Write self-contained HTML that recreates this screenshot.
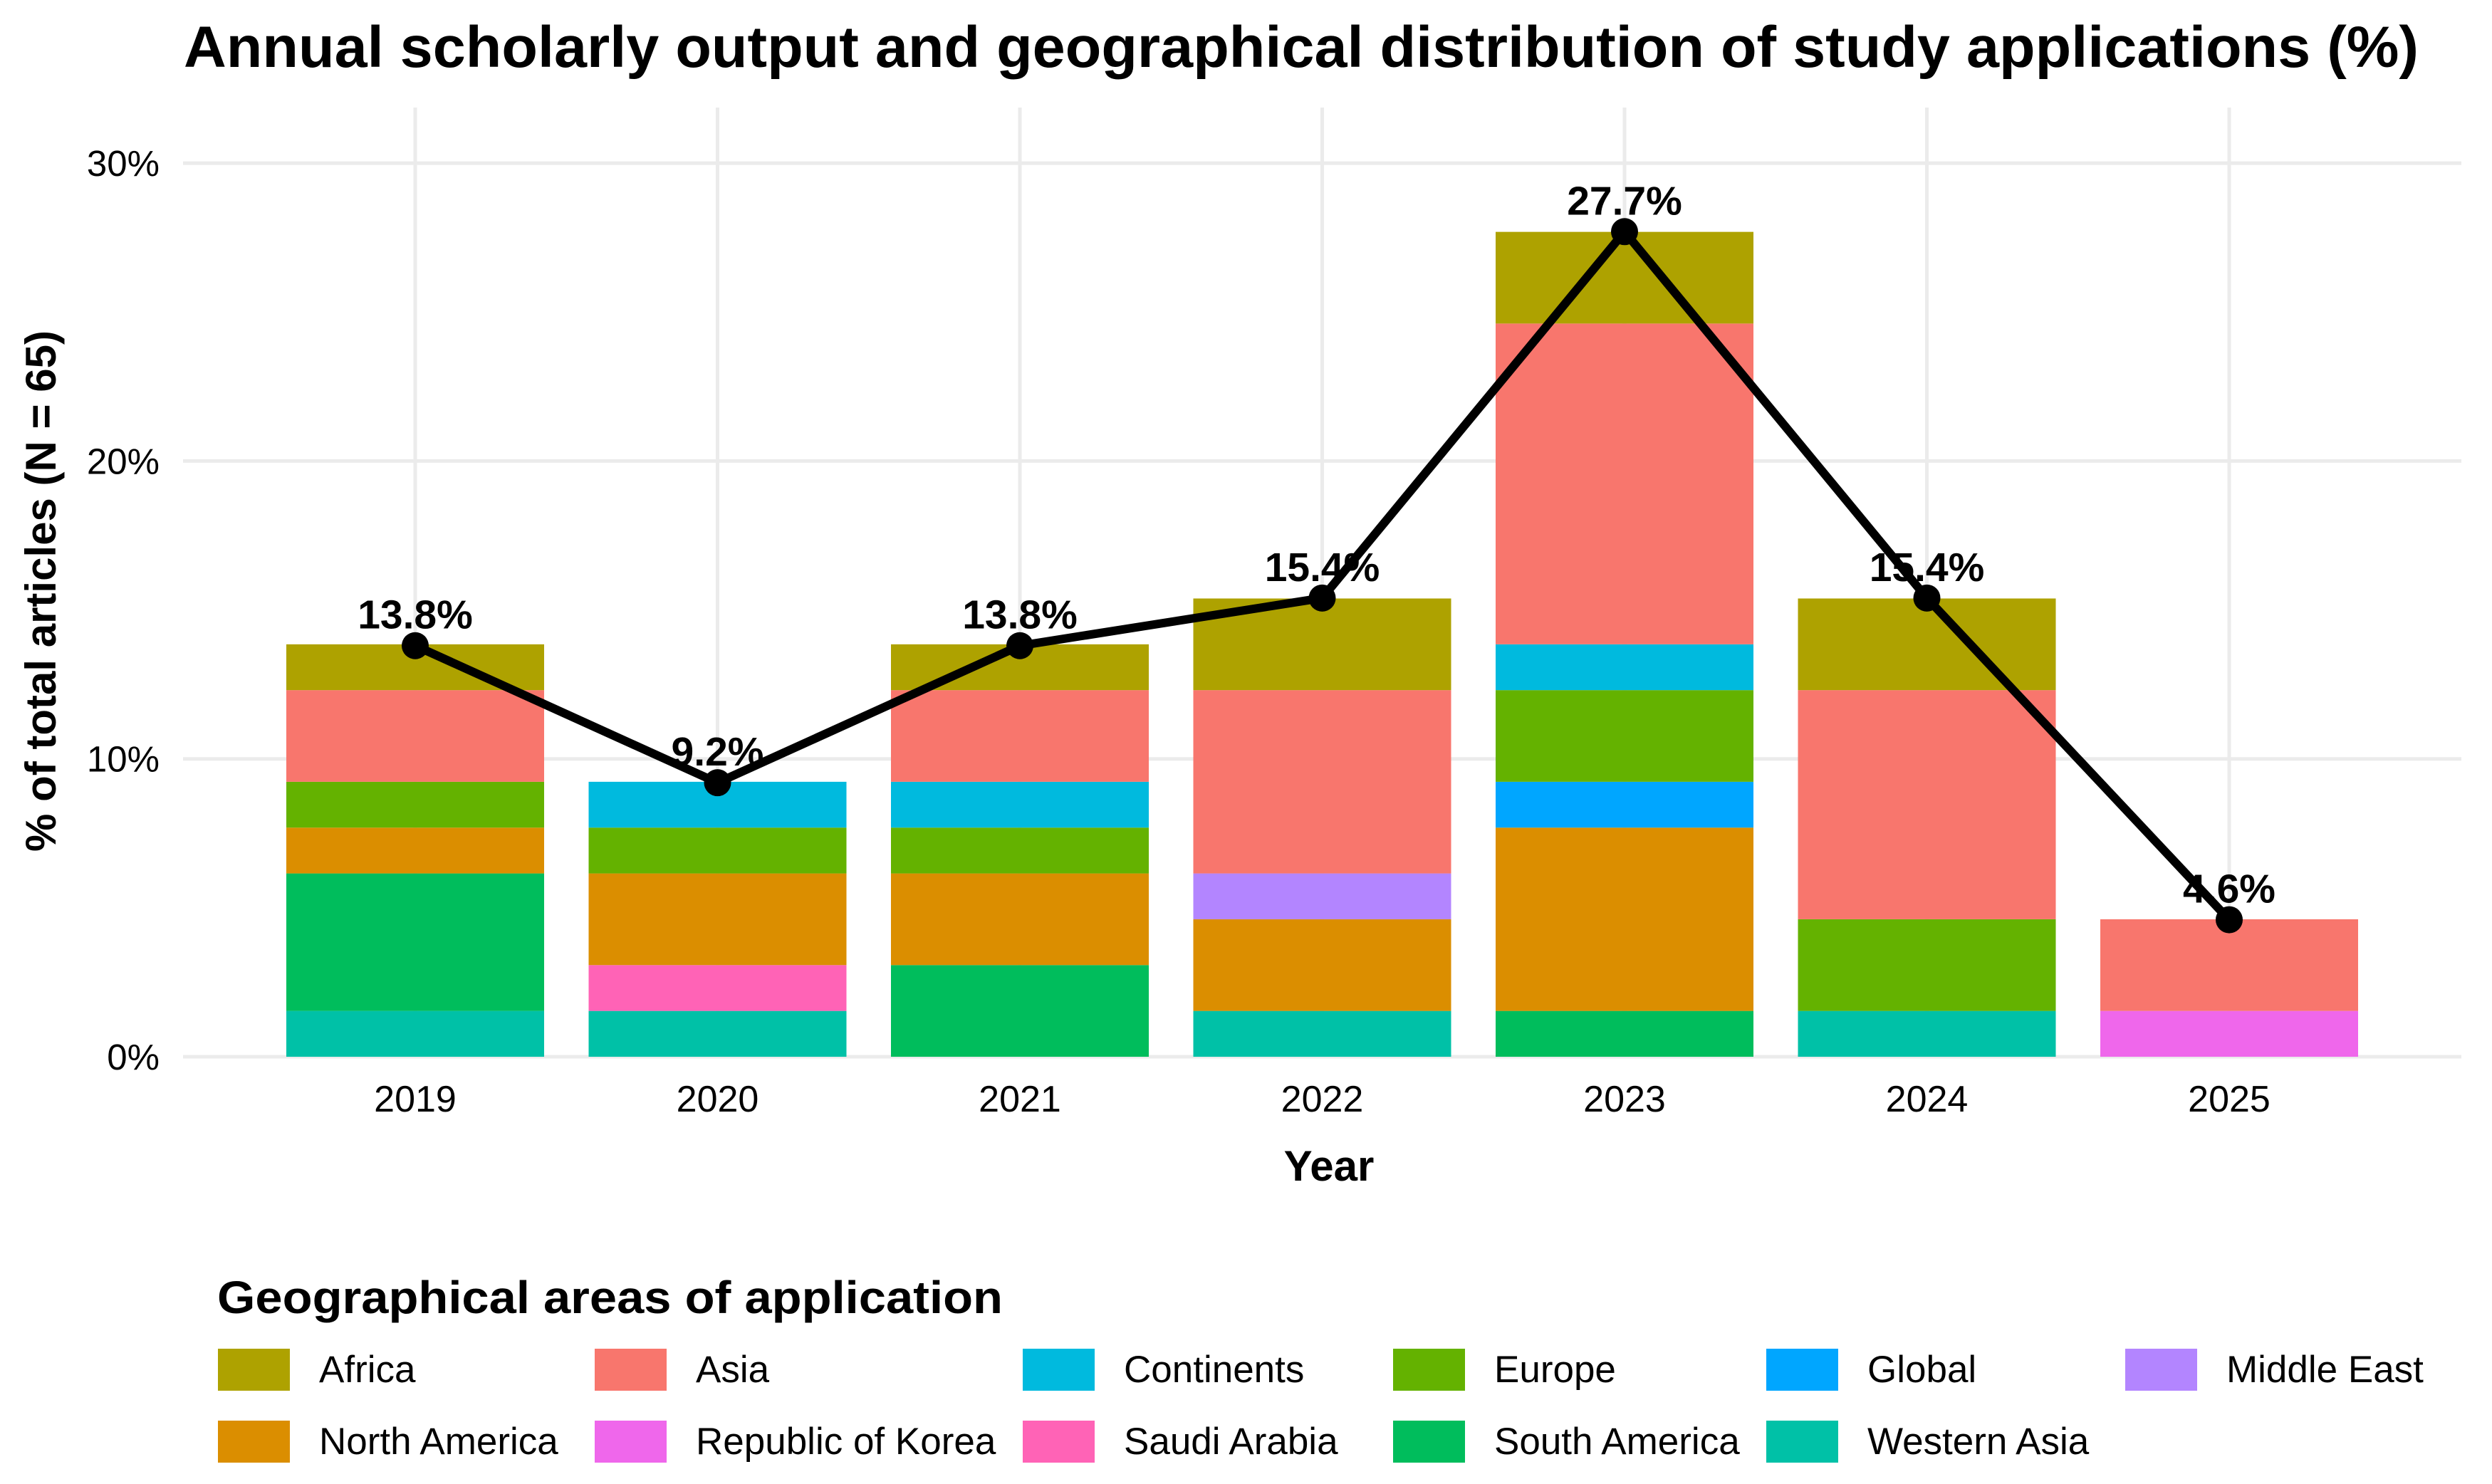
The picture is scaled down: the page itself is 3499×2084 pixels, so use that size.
<!DOCTYPE html>
<html><head><meta charset="utf-8"><style>
html,body{margin:0;padding:0;background:#fff;}
svg{display:block;font-family:"Liberation Sans",Arial,sans-serif;}
</style></head><body>
<svg id="chart" width="3499" height="2084" viewBox="0 0 3499 2084" xmlns="http://www.w3.org/2000/svg">
<rect width="3499" height="2084" fill="#fff"/>
<text x="258" y="94" font-size="82" font-weight="bold" textLength="3138" lengthAdjust="spacingAndGlyphs">Annual scholarly output and geographical distribution of study applications (%)</text>
<g id="grid"></g>
<g id="bars"></g>
<g id="line"></g>
<g id="axes"></g>
<text x="1866" y="1658" font-size="60" font-weight="bold" text-anchor="middle">Year</text>
<text transform="translate(78,830) rotate(-90)" font-size="60" font-weight="bold" text-anchor="middle">% of total articles (N = 65)</text>
<text x="305" y="1844" font-size="64" font-weight="bold" textLength="1103" lengthAdjust="spacingAndGlyphs">Geographical areas of application</text>
<g id="legend"></g>
</svg>
<script>
const years = ["2019","2020","2021","2022","2023","2024","2025"];
const N = 65;
// article counts per category per year (stack order bottom -> top)
const westernAsia   = [1,1,0,1,0,1,0];
const southAmerica  = [3,0,2,0,1,0,0];
const saudiArabia   = [0,1,0,0,0,0,0];
const korea         = [0,0,0,0,0,0,1];
const northAmerica  = [1,2,2,2,4,0,0];
const middleEast    = [0,0,0,1,0,0,0];
const global        = [0,0,0,0,1,0,0];
const europe        = [1,1,1,0,2,2,0];
const continents    = [0,1,1,0,1,0,0];
const asia          = [2,0,2,4,7,5,2];
const africa        = [1,0,1,2,2,2,0];
const totals = [13.8,9.2,13.8,15.4,27.7,15.4,4.6];
const totalLabels = ["13.8%","9.2%","13.8%","15.4%","27.7%","15.4%","4.6%"];
const yTicks = [0,10,20,30];
const yTickLabels = ["0%","10%","20%","30%"];

const series = [
 {name:"Western Asia",v:westernAsia,c:"#00C1A7",k:"western-asia"},
 {name:"South America",v:southAmerica,c:"#00BD5C",k:"south-america"},
 {name:"Saudi Arabia",v:saudiArabia,c:"#FF63B6",k:"saudi-arabia"},
 {name:"Republic of Korea",v:korea,c:"#EF67EB",k:"republic-of-korea"},
 {name:"North America",v:northAmerica,c:"#DB8E00",k:"north-america"},
 {name:"Middle East",v:middleEast,c:"#B385FF",k:"middle-east"},
 {name:"Global",v:global,c:"#00A6FF",k:"global"},
 {name:"Europe",v:europe,c:"#64B200",k:"europe"},
 {name:"Continents",v:continents,c:"#00BADE",k:"continents"},
 {name:"Asia",v:asia,c:"#F8766D",k:"asia"},
 {name:"Africa",v:africa,c:"#AEA200",k:"africa"}
];
const NS="http://www.w3.org/2000/svg";
function mk(tag,attrs,parent){const e=document.createElementNS(NS,tag);for(const a in attrs)e.setAttribute(a,attrs[a]);parent.appendChild(e);return e;}
const x = i => 583 + i*424.5;
const y = p => 1484 - p*41.83;
const barW = 362;
const grid=document.getElementById('grid'), bars=document.getElementById('bars'), line=document.getElementById('line'), axes=document.getElementById('axes');

yTicks.forEach((t,i)=>{
  const l=mk('line',{x1:257,x2:3456,y1:y(t),y2:y(t),stroke:"#EBEBEB","stroke-width":5},grid);
  
  
  const tx=mk('text',{x:224,y:y(t)+18,"font-size":51,"text-anchor":"end"},axes);
  tx.textContent=yTickLabels[i];
  
  
});
years.forEach((yr,i)=>{
  const l=mk('line',{x1:x(i),x2:x(i),y1:151,y2:1484,stroke:"#EBEBEB","stroke-width":5},grid);
  
  
  const tx=mk('text',{x:x(i),y:1561,"font-size":52,"text-anchor":"middle"},axes);
  tx.textContent=yr;
  
  
  let cum=0;
  series.forEach(s=>{
    const n=s.v[i]; if(!n) return;
    const p0=cum/N*100, p1=(cum+n)/N*100; cum+=n;
    const r=mk('rect',{x:x(i)-barW/2,y:y(p1),width:barW,height:y(p0)-y(p1),fill:s.c},bars);
    
    
  });
});
const pl=mk('polyline',{points:totals.map((t,i)=>x(i)+','+y(t)).join(' '),fill:"none",stroke:"#000","stroke-width":12,"stroke-linejoin":"round"},line);


totals.forEach((t,i)=>{
  const c=mk('circle',{cx:x(i),cy:y(t),r:19,fill:"#000"},line);
  
  
  const tx=mk('text',{x:x(i),y:y(t)-24,"font-size":57,"font-weight":"bold","text-anchor":"middle"},line);
  tx.textContent=totalLabels[i];
  
  
});
const legendOrder=["Africa","Asia","Continents","Europe","Global","Middle East","North America","Republic of Korea","Saudi Arabia","South America","Western Asia"];
const colX=[306,835,1436,1956,2480,2984];
const leg=document.getElementById('legend');
legendOrder.forEach((nm,j)=>{
  const s=series.find(q=>q.name===nm);
  const col=j%6,row=Math.floor(j/6);
  const ky=1894+row*101;
  const r=mk('rect',{x:colX[col],y:ky,width:101,height:59,fill:s.c},leg);
  
  
  const tx=mk('text',{x:colX[col]+142,y:ky+47,"font-size":53},leg);
  tx.textContent=nm;
  
  
});
</script>
</body></html>
